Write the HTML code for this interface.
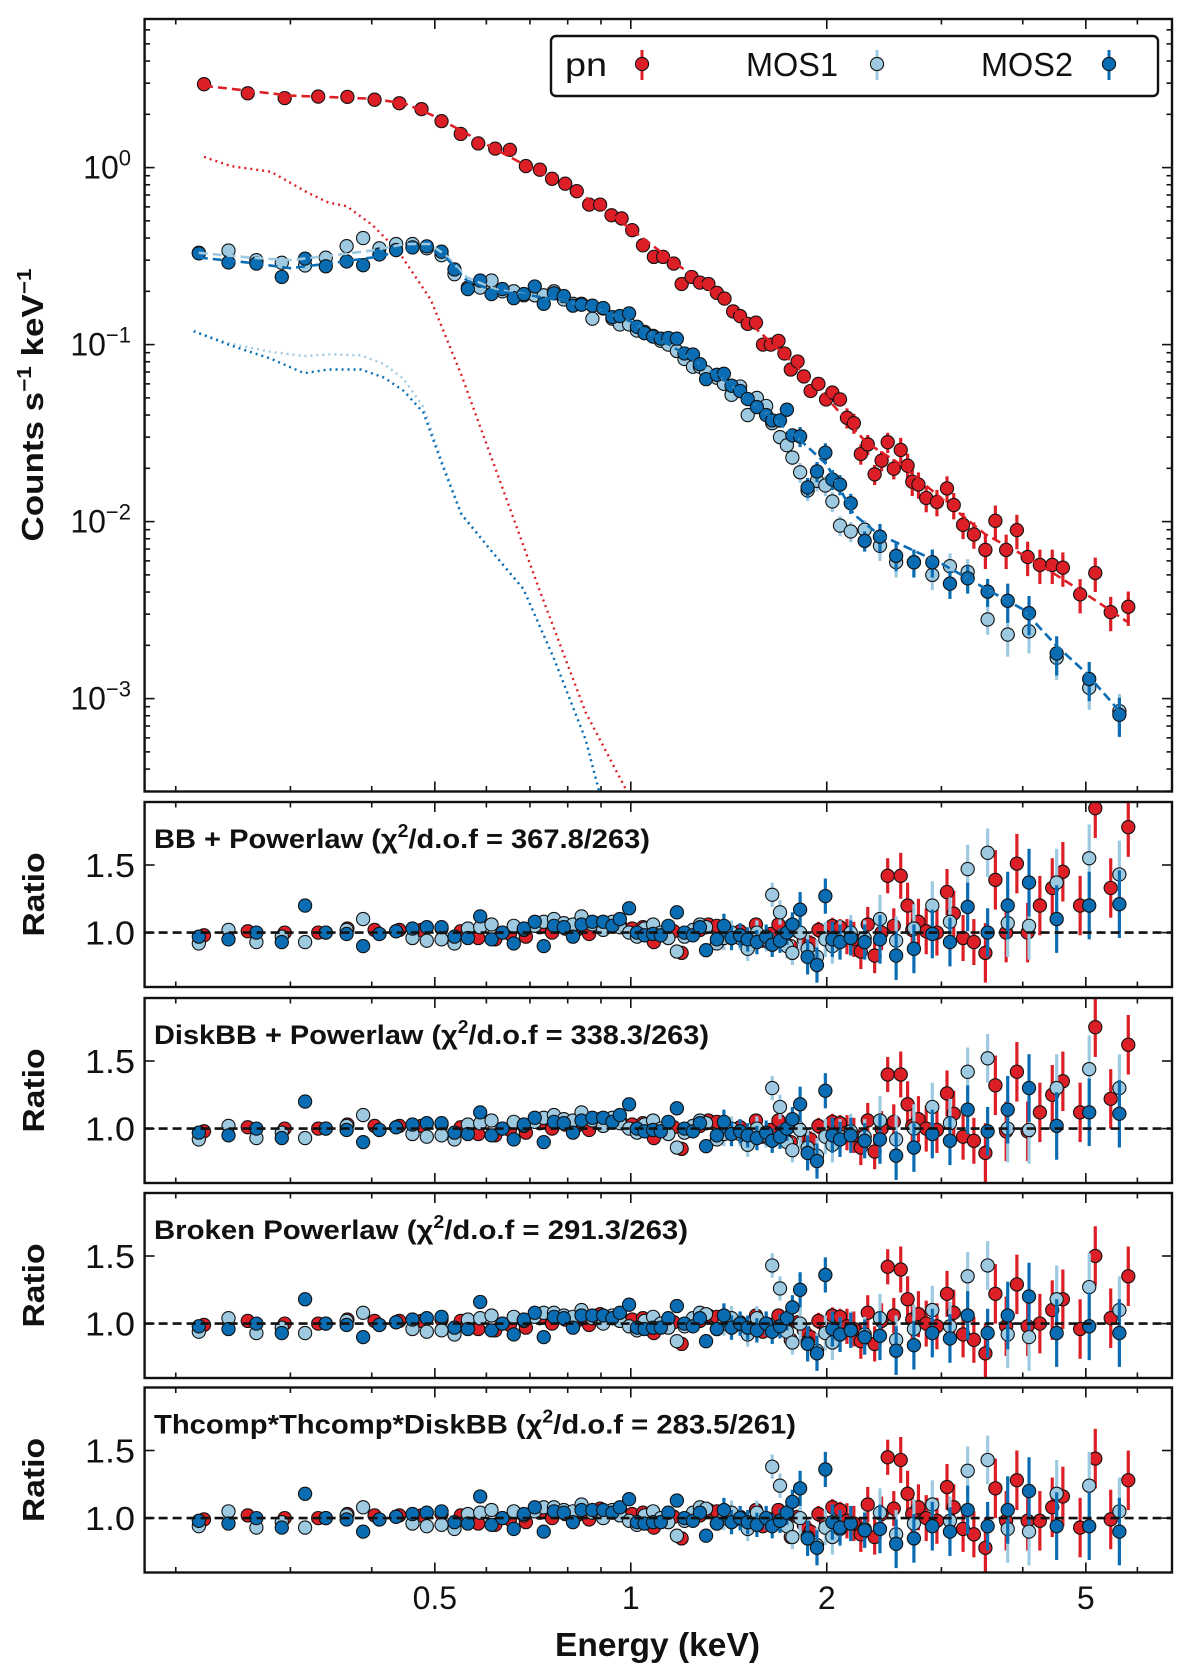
<!DOCTYPE html>
<html><head><meta charset="utf-8"><style>
html,body{margin:0;padding:0;background:#fff;}
svg{display:block;font-family:"Liberation Sans",sans-serif;}
</style></head><body>
<svg id="fig" width="1200" height="1674" viewBox="0 0 1200 1674" xmlns="http://www.w3.org/2000/svg"></svg>
<script>
// ---------- data ----------
const pnE=[0.221,0.258,0.294,0.331,0.367,0.404,0.441,0.477,0.512,0.548,0.583,0.619,0.652,0.690,0.725,0.757,0.793,0.826,0.863,0.897,0.934,0.968,1.005,1.044,1.085,1.121,1.164,1.197,1.240,1.277,1.316,1.356,1.393,1.436,1.472,1.512,1.557,1.596,1.641,1.686,1.722,1.761,1.804,1.844,1.889,1.942,1.995,2.040,2.096,2.148,2.201,2.256,2.312,2.369,2.428,2.481,2.535,2.598,2.662,2.706,2.766,2.843,2.953,3.060,3.134,3.239,3.365,3.505,3.631,3.772,3.918,4.07,4.25,4.44,4.61,4.90,5.17,5.46,5.81];
const pnV=[2.96,2.63,2.47,2.52,2.51,2.42,2.31,2.14,1.83,1.55,1.37,1.28,1.26,1.02,0.973,0.864,0.811,0.736,0.618,0.618,0.538,0.516,0.443,0.364,0.313,0.313,0.287,0.220,0.241,0.224,0.220,0.196,0.182,0.154,0.145,0.131,0.133,0.100,0.100,0.105,0.0891,0.0723,0.0803,0.0661,0.0547,0.0600,0.0490,0.0536,0.0490,0.0386,0.0360,0.0241,0.0273,0.0185,0.0221,0.0281,0.0199,0.0254,0.0207,0.0168,0.0162,0.0136,0.0129,0.0154,0.0124,0.00959,0.00846,0.00692,0.0101,0.00692,0.00895,0.00631,0.00569,0.00569,0.00549,0.00388,0.00513,0.00308,0.00330];
const pnErr=[.01,.01,.01,.01,.01,.01,.01,.01,.01,.01,.015,.015,.015,.015,.015,.015,.015,.015,.015,.015,.015,.015,.015,.015,.015,.025,.025,.025,.025,.025,.025,.025,.025,.025,.025,.04,.04,.04,.04,.04,.04,.04,.04,.06,.06,.06,.06,.06,.06,.13,.13,.13,.13,.13,.13,.13,.13,.17,.17,.17,.17,.17,.17,.17,.17,.17,.17,.22,.22,.22,.22,.22,.22,.22,.22,.22,.22,.22,.22];
const mosE=[0.217,0.241,0.266,0.291,0.316,0.340,0.366,0.388,0.411,0.436,0.462,0.486,0.512,0.536,0.562,0.587,0.611,0.635,0.661,0.685,0.712,0.735,0.762,0.789,0.815,0.840,0.873,0.907,0.937,0.962,0.994,1.022,1.050,1.082,1.112,1.142,1.177,1.209,1.246,1.277,1.305,1.356,1.390,1.428,1.472,1.512,1.562,1.614,1.649,1.695,1.737,1.771,1.820,1.869,1.932,1.990,2.040,2.096,2.177,2.287,2.414,2.556,2.722,2.905,3.092,3.292,3.533,3.793,4.09,4.51,5.06,5.63];
const mos2V=[0.328,0.291,0.287,0.241,0.306,0.277,0.295,0.281,0.323,0.342,0.354,0.359,0.335,0.266,0.206,0.230,0.193,0.206,0.183,0.193,0.213,0.170,0.195,0.188,0.166,0.168,0.166,0.161,0.143,0.145,0.150,0.126,0.116,0.111,0.108,0.109,0.108,0.0891,0.0879,0.0775,0.0638,0.0675,0.0684,0.0586,0.0547,0.0493,0.0444,0.0400,0.0373,0.0373,0.0429,0.0307,0.0303,0.0156,0.0192,0.0245,0.0173,0.0162,0.0127,0.00778,0.00822,0.00640,0.00589,0.00589,0.00446,0.00478,0.00402,0.00357,0.00304,0.00180,0.00129,0.00081];
const mos1V=[0.33,0.34,0.30,0.29,0.28,0.31,0.36,0.40,0.35,0.37,0.37,0.35,0.32,0.25,0.21,0.21,0.23,0.20,0.20,0.19,0.19,0.19,0.20,0.18,0.17,0.17,0.14,0.16,0.14,0.13,0.13,0.12,0.118,0.112,0.105,0.10,0.092,0.083,0.075,0.075,0.070,0.065,0.060,0.052,0.058,0.040,0.050,0.045,0.036,0.030,0.027,0.023,0.019,0.015,0.017,0.016,0.013,0.0095,0.0088,0.0090,0.0073,0.0059,0.0059,0.0050,0.0056,0.0052,0.0028,0.0023,0.0024,0.0017,0.00115,0.00085];
const mosErr=[.02,.02,.02,.02,.02,.02,.02,.02,.02,.02,.02,.02,.02,.02,.02,.03,.03,.03,.03,.03,.03,.03,.03,.03,.03,.03,.03,.03,.03,.03,.05,.05,.05,.05,.05,.05,.05,.05,.05,.05,.05,.05,.09,.09,.09,.09,.09,.09,.09,.09,.09,.09,.13,.13,.13,.13,.13,.13,.13,.13,.18,.18,.18,.18,.18,.18,.18,.25,.25,.25,.25,.25];
// models (dashed) and soft components (dotted)
const pnModE=[0.221,0.3,0.4,0.45,0.5,0.6,0.7,0.8,0.9,1.0,1.2,1.5,1.8,2.0,2.3,2.6,3.0,3.5,4.0,4.5,5.0,5.8];
const pnModV=[2.9,2.55,2.45,2.3,1.95,1.35,1.0,0.78,0.6,0.45,0.27,0.14,0.075,0.05,0.028,0.021,0.0135,0.0085,0.0065,0.005,0.0039,0.0027];
const mos2ModE=[0.217,0.26,0.3,0.35,0.4,0.45,0.49,0.52,0.56,0.62,0.7,0.8,0.9,1.0,1.2,1.4,1.6,1.8,2.0,2.2,2.4,3.0,3.5,4.0,4.5,5.0,5.63];
const mos2ModV=[0.31,0.29,0.27,0.29,0.31,0.34,0.35,0.31,0.23,0.20,0.19,0.175,0.155,0.135,0.09,0.062,0.042,0.03,0.021,0.011,0.0085,0.0058,0.0042,0.0032,0.002,0.0014,0.00085];
const mos1ModV=[0.33,0.31,0.30,0.32,0.34,0.37,0.37,0.32,0.24,0.205,0.19,0.175,0.155,0.135,0.09,0.062,0.042,0.03,0.021,0.011,0.0085,0.0058,0.0042,0.0032,0.002,0.0014,0.00085];
const pnBBE=[0.221,0.243,0.280,0.319,0.343,0.366,0.401,0.440,0.493,0.549,0.630,0.723,0.852,0.986];
const pnBBV=[1.15,1.02,0.948,0.721,0.635,0.605,0.474,0.335,0.179,0.0675,0.0168,0.00416,0.00084,0.0003];
const mosBBE=[0.213,0.243,0.280,0.315,0.343,0.385,0.418,0.448,0.480,0.514,0.549,0.612,0.684,0.762,0.852,0.894];
const mos2BBV=[0.119,0.0988,0.0832,0.0689,0.0723,0.0723,0.0651,0.0547,0.0414,0.0207,0.0110,0.00676,0.00416,0.00168,0.00059,0.0003];
const mos1BBV=[0.119,0.101,0.091,0.0861,0.088,0.087,0.0775,0.0638,0.0444,0.0215,0.0112,0.00676,0.00416,0.00168,0.00059,0.0003];
// ratios per panel
const pnR1=[0.98,1.01,1.0,1.0,1.03,1.02,1.02,1.02,1.03,1.01,0.96,0.95,0.99,0.97,1.04,1.0,1.03,1.02,0.99,1.07,1.05,1.04,1.03,1.04,0.93,0.99,1.01,0.85,1.0,1.02,1.06,1.05,1.04,0.98,1.01,0.96,1.06,0.94,0.99,1.06,0.98,0.9,1.01,0.95,0.92,1.02,0.96,1.05,1.04,0.97,0.95,0.86,1.06,0.83,1.0,1.42,1.05,1.42,1.2,1.02,1.08,1.01,1.0,1.30,1.14,0.96,0.93,0.85,1.39,1.0,1.51,1.0,1.2,1.33,1.45,1.2,1.92,1.33,1.78];
const pnR2=[0.98,1.01,1.0,1.0,1.03,1.02,1.02,1.02,1.03,1.01,0.96,0.95,0.99,0.97,1.04,1.0,1.03,1.02,0.99,1.07,1.05,1.04,1.03,1.04,0.93,0.99,1.01,0.85,1.0,1.02,1.06,1.05,1.04,0.98,1.01,0.96,1.06,0.94,0.99,1.06,0.98,0.9,1.01,0.95,0.92,1.02,0.96,1.05,1.04,0.97,0.95,0.86,1.06,0.83,1.0,1.40,1.05,1.40,1.18,1.02,1.07,1.0,0.99,1.26,1.11,0.94,0.91,0.82,1.32,0.98,1.42,0.98,1.12,1.25,1.35,1.12,1.75,1.22,1.62];
const pnR3=[0.99,1.02,1.0,1.0,1.03,1.02,1.02,1.02,1.03,1.02,0.96,0.95,0.99,0.97,1.04,1.0,1.03,1.02,0.99,1.07,1.05,1.04,1.03,1.04,0.93,0.99,1.01,0.85,1.0,1.02,1.06,1.05,1.04,0.98,1.01,0.96,1.06,0.94,0.99,1.06,0.98,0.88,1.01,0.95,0.9,1.02,0.96,1.06,1.05,0.98,0.96,0.87,1.08,0.85,1.02,1.42,1.06,1.40,1.18,1.03,1.07,1.0,0.98,1.22,1.08,0.92,0.88,0.78,1.22,0.98,1.29,0.98,1.0,1.10,1.18,0.96,1.50,1.04,1.35];
const pnR4=[0.99,1.02,1.0,1.0,1.03,1.02,1.02,1.02,1.03,1.02,0.96,0.95,0.99,0.97,1.04,1.0,1.03,1.02,0.99,1.07,1.05,1.04,1.03,1.04,0.93,0.99,1.01,0.85,1.0,1.02,1.06,1.05,1.04,0.98,1.01,0.96,1.06,0.94,0.99,1.06,0.98,0.86,1.01,0.95,0.9,1.03,0.96,1.08,1.06,0.98,0.96,0.88,1.1,0.86,1.03,1.45,1.07,1.43,1.18,1.03,1.08,1.0,0.98,1.23,1.08,0.92,0.88,0.78,1.22,0.98,1.28,0.98,0.98,1.08,1.16,0.93,1.44,0.99,1.28];
const m2R1=[0.97,0.95,1.0,0.93,1.2,1.0,0.99,0.9,0.99,1.01,1.03,1.04,1.04,0.97,0.96,1.12,0.95,1.0,0.92,1.03,1.08,0.9,1.05,1.04,0.97,1.06,1.08,1.08,1.05,1.1,1.18,1.0,0.98,0.99,0.98,1.05,1.15,1.0,0.98,1.04,0.87,0.95,1.05,0.96,0.98,0.95,0.93,0.97,0.91,0.94,1.0,1.06,1.17,0.82,0.76,1.27,0.95,0.93,0.96,0.93,0.95,0.83,0.88,0.99,0.93,1.19,1.0,1.2,1.37,1.1,1.2,1.21];
const m2R2=[0.97,0.95,1.0,0.93,1.2,1.0,0.99,0.9,0.99,1.01,1.03,1.04,1.04,0.97,0.96,1.12,0.95,1.0,0.92,1.03,1.08,0.9,1.05,1.04,0.97,1.06,1.08,1.08,1.05,1.1,1.18,1.0,0.98,0.99,0.98,1.05,1.15,1.0,0.98,1.04,0.87,0.95,1.05,0.96,0.98,0.95,0.93,0.97,0.91,0.94,1.0,1.07,1.18,0.82,0.76,1.28,0.95,0.92,0.95,0.91,0.92,0.8,0.86,0.96,0.91,1.14,0.98,1.14,1.3,1.02,1.12,1.11];
const m2R3=[0.98,0.96,1.0,0.93,1.18,1.0,0.99,0.9,0.99,1.01,1.03,1.04,1.05,0.97,0.96,1.16,0.95,1.0,0.92,1.03,1.08,0.9,1.05,1.04,0.97,1.06,1.06,1.06,1.04,1.08,1.14,0.97,0.96,0.97,0.97,1.04,1.13,1.0,0.98,1.04,0.87,0.96,1.06,0.97,1.0,0.97,0.95,1.0,0.94,0.98,1.04,1.12,1.25,0.85,0.78,1.36,0.96,0.92,0.95,0.9,0.91,0.8,0.84,0.93,0.89,1.06,0.93,1.06,1.2,0.93,0.98,0.93];
const m2R4=[0.98,0.96,1.0,0.93,1.18,1.0,0.99,0.9,0.99,1.01,1.03,1.04,1.05,0.97,0.96,1.16,0.95,1.0,0.92,1.03,1.08,0.9,1.05,1.04,0.97,1.06,1.06,1.06,1.04,1.08,1.14,0.97,0.96,0.97,0.97,1.04,1.13,1.0,0.98,1.04,0.87,0.96,1.06,0.97,1.0,0.97,0.95,1.0,0.94,0.98,1.04,1.12,1.22,0.85,0.78,1.36,0.97,0.93,0.96,0.91,0.92,0.81,0.85,0.94,0.9,1.06,0.94,1.06,1.2,0.94,0.94,0.9];
const m1R1=[0.92,1.02,0.93,0.97,0.93,1.0,1.02,1.1,0.99,1.01,0.96,0.94,0.95,0.92,1.03,1.04,1.06,1.0,1.05,1.02,1.05,1.08,1.1,1.07,1.06,1.12,1.06,1.02,1.08,1.04,1.0,0.97,1.03,1.06,1.0,0.96,0.86,0.97,1.02,1.06,1.04,0.92,0.96,1.0,0.96,0.88,1.0,0.95,1.28,1.15,0.9,0.85,1.0,0.88,0.82,0.95,0.9,0.96,1.0,0.96,1.1,0.94,1.03,1.2,1.08,1.47,1.59,1.07,1.05,1.37,1.55,1.43];
const m1R2=[0.92,1.02,0.93,0.97,0.93,1.0,1.02,1.1,0.99,1.01,0.96,0.94,0.95,0.92,1.03,1.04,1.06,1.0,1.05,1.02,1.05,1.08,1.1,1.07,1.06,1.12,1.06,1.02,1.08,1.04,1.0,0.97,1.03,1.06,1.0,0.96,0.86,0.97,1.02,1.06,1.04,0.92,0.96,1.0,0.96,0.88,1.0,0.95,1.3,1.16,0.9,0.84,0.99,0.86,0.8,0.94,0.88,0.94,0.98,0.94,1.06,0.92,1.0,1.16,1.04,1.42,1.52,1.0,0.99,1.3,1.44,1.3];
const m1R3=[0.94,1.04,0.93,0.97,0.93,1.0,1.02,1.08,0.99,1.01,0.96,0.94,0.95,0.92,1.03,1.04,1.06,1.0,1.05,1.02,1.05,1.08,1.08,1.06,1.05,1.1,1.04,1.0,1.06,1.02,0.98,0.95,1.02,1.05,1.0,0.97,0.87,0.98,1.04,1.08,1.07,0.96,1.0,1.04,1.0,0.92,1.04,1.0,1.43,1.26,0.94,0.86,1.0,0.86,0.8,0.93,0.86,0.92,0.96,0.92,1.04,0.88,0.96,1.1,0.98,1.35,1.43,0.92,0.9,1.18,1.27,1.1];
const m1R4=[0.94,1.05,0.93,0.97,0.93,1.0,1.02,1.08,0.99,1.01,0.96,0.94,0.95,0.92,1.03,1.04,1.06,1.0,1.05,1.02,1.05,1.08,1.08,1.06,1.05,1.1,1.04,1.0,1.06,1.02,0.98,0.95,1.02,1.05,1.0,0.97,0.87,0.98,1.04,1.08,1.07,0.96,1.0,1.04,1.0,0.92,1.04,1.0,1.38,1.24,0.94,0.86,1.0,0.86,0.8,0.93,0.86,0.92,0.96,0.92,1.04,0.88,0.96,1.1,0.98,1.35,1.43,0.92,0.9,1.18,1.24,1.05];
const panelTitles=["BB + Powerlaw (χ","DiskBB + Powerlaw (χ","Broken Powerlaw (χ","Thcomp*Thcomp*DiskBB (χ"];
const panelStats=["/d.o.f = 367.8/263)","/d.o.f = 338.3/263)","/d.o.f = 291.3/263)","/d.o.f = 283.5/261)"];
const titleWidths=[496,555,534,642];
const xMajor=[0.5,1,2,5];
const xMajorLabels=["0.5","1","2","5"];
const xMinor=[0.2,0.3,0.4,0.6,0.7,0.8,0.9,3,4,6];
const yDecades=[-3,-2,-1,0];
const ratioTicks=[1.0,1.5];
const ratioLabels=["1.0","1.5"];

// ---------- layout / axes ----------
const NS="http://www.w3.org/2000/svg";
const svg=document.getElementById('fig');
const L=144.6,R=1172,MT=19,MB=791.5;
const PT=[802,998,1193,1387.5],PH=185;
const xS=E=>630.8+651*Math.log10(E);
const yM=V=>167.6-177*Math.log10(V);
const yR=(i,r)=>PT[i]+(1.966-r)*135.2;
const C={pn:"#dc1f26",m1:"#9ecae1",m2:"#0a6db3"};
function el(tag,attrs,parent){const e=document.createElementNS(NS,tag);for(const k in attrs)e.setAttribute(k,attrs[k]);(parent||svg).appendChild(e);return e;}

const defs=el('defs',{});
const cm=el('clipPath',{id:'clipMain'},defs);el('rect',{x:L,y:MT,width:R-L,height:MB-MT},cm);
PT.forEach((t,i)=>{const c=el('clipPath',{id:'clipR'+i},defs);el('rect',{x:L,y:t,width:R-L,height:PH},c);});

function polyline(xs,ys,fx,fy,attrs,parent,name){
  const pts=xs.map((x,i)=>fx(x).toFixed(1)+','+fy(ys[i]).toFixed(1)).join(' ');
  const p=el('polyline',Object.assign({points:pts,fill:'none'},attrs),parent);
  
  
  return p;
}
function points(xs,ys,errs,fx,fy,col,parent,name,logy){
  const g=el('g',{},parent);
  
  
  const n=Math.min(xs.length,ys.length,errs.length);
  for(let i=0;i<n;i++){
    const v=ys[i],e=errs[i];
    const lo=logy? v*(1-e):v-e, hi=logy? v*(1+e):v+e;
    const cx=fx(xs[i]);
    const b=el('line',{x1:cx,x2:cx,y1:fy(lo),y2:fy(hi),stroke:col,'stroke-width':3.2},g);
    
    
  }
  for(let i=0;i<n;i++){
    const c=el('circle',{cx:fx(xs[i]),cy:fy(ys[i]),r:6.6,fill:col,stroke:'#111','stroke-width':1.1},g);
    
    
  }
}
function frame(y0,y1,name){
  const r=el('rect',{x:L,y:y0,width:R-L,height:y1-y0,fill:'none',stroke:'#111','stroke-width':2.4});
  
  
}
function xTicks(y0,y1){
  const g=el('g',{stroke:'#111','stroke-width':1.6});
  
  
  xMajor.forEach(E=>{const x=xS(E);el('line',{x1:x,x2:x,y1:y1,y2:y1-10},g);el('line',{x1:x,x2:x,y1:y0,y2:y0+10},g);});
  xMinor.forEach(E=>{const x=xS(E);el('line',{x1:x,x2:x,y1:y1,y2:y1-5.5},g);el('line',{x1:x,x2:x,y1:y0,y2:y0+5.5},g);});
}

// ---------- main panel ----------
const gm=el('g',{'clip-path':'url(#clipMain)'});


polyline(pnBBE,pnBBV,xS,yM,{stroke:C.pn,'stroke-width':2.4,'stroke-dasharray':'2,4'},gm,'pn-soft-component');
polyline(mosBBE,mos1BBV,xS,yM,{stroke:C.m1,'stroke-width':2.4,'stroke-dasharray':'2,4'},gm,'mos1-soft-component');
polyline(mosBBE,mos2BBV,xS,yM,{stroke:C.m2,'stroke-width':2.4,'stroke-dasharray':'2,4'},gm,'mos2-soft-component');
points(pnE,pnV,pnErr,xS,yM,C.pn,gm,'pn-spectrum',true);
points(mosE,mos1V,mosErr,xS,yM,C.m1,gm,'mos1-spectrum',true);
points(mosE,mos2V,mosErr,xS,yM,C.m2,gm,'mos2-spectrum',true);
polyline(pnModE,pnModV,xS,yM,{stroke:C.pn,'stroke-width':2.6,'stroke-dasharray':'9,5'},gm,'pn-model');
polyline(mos2ModE,mos1ModV,xS,yM,{stroke:C.m1,'stroke-width':2.6,'stroke-dasharray':'9,5'},gm,'mos1-model');
polyline(mos2ModE,mos2ModV,xS,yM,{stroke:C.m2,'stroke-width':2.6,'stroke-dasharray':'9,5'},gm,'mos2-model');
frame(MT,MB,'spectrum-frame');
xTicks(MT,MB);
(function(){
  const g=el('g',{stroke:'#111','stroke-width':1.6});
  
  
  for(let d=-4;d<=0;d++){for(let m=1;m<10;m++){const v=m*Math.pow(10,d);const y=yM(v);if(y<MT||y>MB)continue;const len=m===1?10:5.5;el('line',{x1:L,x2:L+len,y1:y,y2:y},g);el('line',{x1:R,x2:R-len,y1:y,y2:y},g);}}
  yDecades.forEach(d=>{
    const t=el('text',{x:131,y:yM(Math.pow(10,d))+11,'font-size':32,'text-anchor':'end',fill:'#111'});
    
    
    const a=el('tspan',{},t);a.textContent='10';
    const b=el('tspan',{dy:-13,'font-size':22},t);b.textContent=(d<0?'\u2212':'')+Math.abs(d);
  });
})();
(function(){
  const t=el('text',{x:0,y:0,transform:'translate(43,405) rotate(-90)','font-size':31,'font-weight':'bold','text-anchor':'middle',fill:'#111',textLength:273,lengthAdjust:'spacingAndGlyphs'});
  
  
  el('tspan',{},t).textContent='Counts s';
  el('tspan',{dy:-12,'font-size':20},t).textContent='\u22121';
  el('tspan',{dy:12},t).textContent=' keV';
  el('tspan',{dy:-12,'font-size':20},t).textContent='\u22121';
})();
(function(){
  const g=el('g',{});
  
  
  el('rect',{x:551,y:36,width:607,height:60,rx:5,fill:'#fff',stroke:'#111','stroke-width':2.4},g);
  const entries=[['pn',565,642,C.pn,42],['MOS1',746,877,C.m1,92],['MOS2',981,1109,C.m2,92]];
  entries.forEach(en=>{
    const ge=el('g',{},g);
    
    
    const t=el('text',{x:en[1],y:76,'font-size':33,fill:'#111',textLength:en[4],lengthAdjust:'spacingAndGlyphs'},ge);t.textContent=en[0];
    el('line',{x1:en[2],x2:en[2],y1:50,y2:80,stroke:en[3],'stroke-width':3},ge);
    el('circle',{cx:en[2],cy:64,r:6.6,fill:en[3],stroke:'#111','stroke-width':1.1},ge);
  });
})();

// ---------- ratio panels ----------
const pnRs=[pnR1,pnR2,pnR3,pnR4],m1Rs=[m1R1,m1R2,m1R3,m1R4],m2Rs=[m2R1,m2R2,m2R3,m2R4];
PT.forEach((t,i)=>{
  const fy=r=>yR(i,r);
  const g=el('g',{'clip-path':'url(#clipR'+i+')'});
  
  
  points(pnE,pnRs[i],pnErr,xS,fy,C.pn,g,'pn-ratio',false);
  points(mosE,m1Rs[i],mosErr,xS,fy,C.m1,g,'mos1-ratio',false);
  points(mosE,m2Rs[i],mosErr,xS,fy,C.m2,g,'mos2-ratio',false);
  const ref=el('line',{x1:L,x2:R,y1:fy(1),y2:fy(1),stroke:'#111','stroke-width':2.6,'stroke-dasharray':'9,5'},g);
  
  
  frame(t,t+PH,'ratio-frame-'+(i+1));
  xTicks(t,t+PH);
  const gt=el('g',{stroke:'#111','stroke-width':1.6});
  
  
  ratioTicks.forEach((r,k)=>{
    const y=fy(r);el('line',{x1:L,x2:L+10,y1:y,y2:y},gt);el('line',{x1:R,x2:R-10,y1:y,y2:y},gt);
    const lb=el('text',{x:135,y:y+12,'font-size':33,'text-anchor':'end',fill:'#111',stroke:'none',textLength:50,lengthAdjust:'spacingAndGlyphs'});
    
    
    lb.textContent=ratioLabels[k];
  });
  const yl=el('text',{x:0,y:0,transform:'translate(44,'+(t+PH/2)+') rotate(-90)','font-size':31,'font-weight':'bold','text-anchor':'middle',fill:'#111',textLength:84,lengthAdjust:'spacingAndGlyphs'});
  
  
  yl.textContent='Ratio';
  const ti=el('text',{x:154,y:t+46,'font-size':27,'font-weight':'bold',fill:'#111',textLength:titleWidths[i],lengthAdjust:'spacingAndGlyphs'});
  
  
  el('tspan',{},ti).textContent=panelTitles[i];
  el('tspan',{dy:-11,'font-size':18},ti).textContent='2';
  el('tspan',{dy:11},ti).textContent=panelStats[i];
});
xMajor.forEach((E,k)=>{
  const t=el('text',{x:xS(E),y:1609,'font-size':32,'text-anchor':'middle',fill:'#111'});
  
  
  t.textContent=xMajorLabels[k];
});
const xt=el('text',{x:555,y:1656,'font-size':33,'font-weight':'bold',fill:'#111',textLength:205,lengthAdjust:'spacingAndGlyphs'});


xt.textContent='Energy (keV)';
</script>
</body></html>
